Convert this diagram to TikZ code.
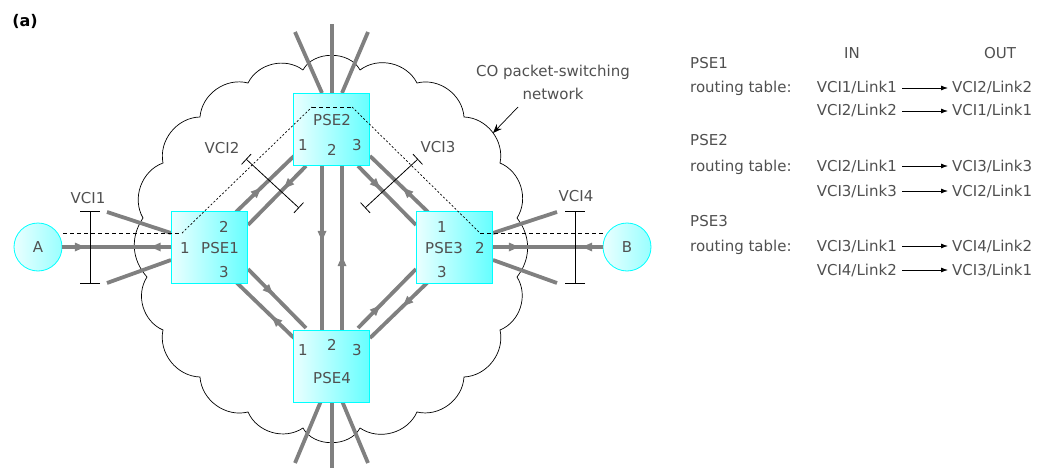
\documentclass[tikz,border=0pt]{standalone}
\usepackage{fontspec}
\setmainfont{DejaVu Sans}
\usetikzlibrary{arrows.meta,decorations.markings}
\definecolor{linkgray}{RGB}{128,128,128}
\definecolor{txtgray}{RGB}{80,80,80}
\definecolor{boxcyan}{RGB}{0,255,255}
\tikzset{
  lbl/.style={font=\fontsize{15}{17}\selectfont, text=txtgray, inner sep=0pt},
  pse/.style={draw=boxcyan, line width=0.8pt, left color=cyan!8, right color=cyan!60, minimum width=76pt, minimum height=72pt, inner sep=0pt},
  host/.style={circle, draw=boxcyan, line width=0.8pt, left color=cyan!8, right color=cyan!40, minimum size=48pt, inner sep=0pt, font=\fontsize{15}{17}\selectfont, text=txtgray},
  link/.style={draw=linkgray, line width=3.8pt},
  tipf/.style={postaction={decorate,decoration={markings,mark=at position #1 with {\fill[linkgray] (4pt,0pt) -- (-6pt,4.5pt) -- (-6pt,-4.5pt) -- cycle;}}}},
  tipb/.style={postaction={decorate,decoration={markings,mark=at position #1 with {\fill[linkgray] (-4pt,0pt) -- (6pt,4.5pt) -- (6pt,-4.5pt) -- cycle;}}}},
  cloudline/.style={draw=black, line width=0.7pt},
  scal/.style={bend left=50},
  brace/.style={bend left=38},
  vci/.style={draw=black, line width=0.8pt, {Bar[width=20pt]}-{Bar[width=20pt]}},
  vcid/.style={draw=black, line width=0.8pt, {Bar[width=14pt]}-{Bar[width=14pt]}},
  vc/.style={draw=black, line width=0.8pt, dash pattern=on 4pt off 3pt},
  vcf/.style={draw=black, line width=0.7pt, dash pattern=on 2pt off 2pt},
  tabarrow/.style={draw=black, line width=0.8pt, -{Latex[length=7pt,width=5pt]}, shorten <=5pt, shorten >=4pt},
}
\begin{document}
\begin{tikzpicture}[x=1pt,y=-1pt]
\useasboundingbox (0,0) rectangle (1049,468);

% ---------------- cloud ----------------
\coordinate (c1) at (303,70);
\coordinate (c2) at (360,70);
\coordinate (c3) at (417,83);
\coordinate (c4) at (464,117);
\coordinate (c5) at (500,163);
\coordinate (c6) at (517,218);
\coordinate (c7) at (517,277);
\coordinate (c8) at (500,330);
\coordinate (c9) at (464,377);
\coordinate (c10) at (417,412);
\coordinate (c11) at (360,428);
\coordinate (c12) at (303,428);
\coordinate (c13) at (248,412);
\coordinate (c14) at (200,377);
\coordinate (c15) at (163,330);
\coordinate (c16) at (147,277);
\coordinate (c17) at (143,218);
\coordinate (c18) at (163,163);
\coordinate (c19) at (200,117);
\coordinate (c20) at (248,83);
\draw[cloudline] (c1) to[bend left=62] (c2) to[scal] (c3) to[scal] (c4) to[scal] (c5)
  to[scal] (c6) to[brace] (c7) to[scal] (c8) to[scal] (c9) to[scal] (c10)
  to[scal] (c11) to[bend left=62] (c12) to[scal] (c13) to[scal] (c14) to[scal] (c15)
  to[scal] (c16) to[brace] (c17) to[scal] (c18) to[scal] (c19) to[scal] (c20)
  to[scal] (c1);

% ---------------- nodes ----------------
\node[host] (A) at (38,247) {};
\node[host] (B) at (627,247) {};

% ---------------- link coordinates ----------------
\coordinate (s1a) at (107,212); \coordinate (s1b) at (171,233);
\coordinate (s2a) at (107,283); \coordinate (s2b) at (171,260);
\coordinate (P1w) at (171,247);
\coordinate (s3a) at (493,233); \coordinate (s3b) at (557,212);
\coordinate (s4a) at (493,260); \coordinate (s4b) at (557,283);
\coordinate (P3e) at (493,247);
\coordinate (t1a) at (322,93); \coordinate (t1b) at (295,32);
\coordinate (t2a) at (332,93); \coordinate (t2b) at (332,24);
\coordinate (t3a) at (342,93); \coordinate (t3b) at (368,32);
\coordinate (b1a) at (321,401); \coordinate (b1b) at (295,463);
\coordinate (b2a) at (332,401); \coordinate (b2b) at (332,468);
\coordinate (b3a) at (342,401); \coordinate (b3b) at (368,463);
\coordinate (l12oa) at (236,212); \coordinate (l12ob) at (294,156);
\coordinate (l12ia) at (306,166); \coordinate (l12ib) at (248,225);
\coordinate (l23ia) at (358,166); \coordinate (l23ib) at (416,225);
\coordinate (l23oa) at (428,212); \coordinate (l23ob) at (370,156);
\coordinate (l14ia) at (248,269); \coordinate (l14ib) at (306,328);
\coordinate (l14oa) at (294,338); \coordinate (l14ob) at (236,282);
\coordinate (l34ia) at (358,328); \coordinate (l34ib) at (416,269);
\coordinate (l34oa) at (428,282); \coordinate (l34ob) at (370,338);
\coordinate (v1a) at (322,166); \coordinate (v1b) at (322,331);
\coordinate (v2a) at (342,331); \coordinate (v2b) at (342,166);

% ---------------- links ----------------
\draw[link] (s1a) -- (s1b);
\draw[link] (s2a) -- (s2b);
\draw[link, tipf=0.17, tipb=0.85] (A.east) -- (P1w);
\draw[link] (s3a) -- (s3b);
\draw[link] (s4a) -- (s4b);
\draw[link, tipf=0.2, tipb=0.85] (P3e) -- (B.west);
\draw[link] (t1a) -- (t1b);
\draw[link] (t2a) -- (t2b);
\draw[link] (t3a) -- (t3b);
\draw[link] (b1a) -- (b1b);
\draw[link] (b2a) -- (b2b);
\draw[link] (b3a) -- (b3b);
\draw[link, tipf=0.38] (l12oa) -- (l12ob);
\draw[link, tipf=0.33] (l12ia) -- (l12ib);
\draw[link, tipf=0.33] (l23ia) -- (l23ib);
\draw[link, tipf=0.38] (l23oa) -- (l23ob);
\draw[link, tipf=0.38] (l14ia) -- (l14ib);
\draw[link, tipf=0.33] (l14oa) -- (l14ob);
\draw[link, tipf=0.33] (l34ia) -- (l34ib);
\draw[link, tipf=0.38] (l34oa) -- (l34ob);
\draw[link, tipf=0.43] (v1a) -- (v1b);
\draw[link, tipf=0.43] (v2a) -- (v2b);

% ---------------- switches ----------------
\node[pse] (PSE1) at (209.5,247.5) {};
\node[pse] (PSE2) at (331.5,129.5) {};
\node[pse] (PSE3) at (454,247.5) {};
\node[pse] (PSE4) at (331.5,366) {};

\node[lbl] at (A) {A};
\node[lbl] at (B) {B};

\node[lbl] (p1n) at (220,248) {PSE1};
\node[lbl] (p1l1) at (185,248) {1};
\node[lbl] (p1l2) at (224,227) {2};
\node[lbl] (p1l3) at (224,272) {3};

\node[lbl] (p2n) at (332,120) {PSE2};
\node[lbl] (p2l1) at (303,145) {1};
\node[lbl] (p2l2) at (332,150) {2};
\node[lbl] (p2l3) at (357,145) {3};

\node[lbl] (p3n) at (444,248) {PSE3};
\node[lbl] (p3l1) at (442,227) {1};
\node[lbl] (p3l2) at (480,248) {2};
\node[lbl] (p3l3) at (442,272) {3};

\node[lbl] (p4n) at (332,378) {PSE4};
\node[lbl] (p4l1) at (303,350) {1};
\node[lbl] (p4l2) at (332,345) {2};
\node[lbl] (p4l3) at (357,350) {3};

% ---------------- virtual circuit path ----------------
\coordinate (d0) at (63,233);
\coordinate (d1) at (182,233);
\coordinate (d2) at (312,107);
\coordinate (d3) at (352,107);
\coordinate (d4) at (480,233);
\coordinate (d5) at (603,233);
\draw[vc] (d0) -- (d1);
\draw[vcf] (d1) -- (d2);
\draw[vc] (d2) -- (d3);
\draw[vcf] (d3) -- (d4);
\draw[vc] (d4) -- (d5);

% ---------------- VCI markers ----------------
\coordinate (vci1a) at (90,211); \coordinate (vci1b) at (90,284);
\coordinate (vci4a) at (575,211); \coordinate (vci4b) at (575,284);
\coordinate (vci2a) at (246,159); \coordinate (vci2b) at (299,208);
\coordinate (vci3a) at (418,159); \coordinate (vci3b) at (365,208);
\draw[vci] (vci1a) -- (vci1b);
\draw[vci] (vci4a) -- (vci4b);
\draw[vcid] (vci2a) -- (vci2b);
\draw[vcid] (vci3a) -- (vci3b);
\node[lbl] (vl1) at (88,198) {VCI1};
\node[lbl] (vl4) at (576,196) {VCI4};
\node[lbl] (vl2) at (222,148) {VCI2};
\node[lbl] (vl3) at (438,147) {VCI3};

% ---------------- cloud label ----------------
\node[lbl] (cl1) at (553,72) {CO packet-switching};
\node[lbl] (cl2) at (553,94) {network};
\coordinate (ca) at (518,107);
\coordinate (cb) at (493,133);
\draw[draw=black, line width=0.7pt, -{Stealth[length=9pt,width=7pt]}] (ca) -- (cb);

\node[font=\fontsize{16}{18}\selectfont\bfseries, inner sep=0pt] (fa) at (25,21) {(a)};

% ---------------- routing tables ----------------
\node[lbl, anchor=base] (hin) at (852,59) {IN};
\node[lbl, anchor=base] (hout) at (1000,59) {OUT};

\node[lbl, anchor=base west] (t1h) at (690,69) {PSE1};
\node[lbl, anchor=base west] (t1r) at (690,93) {routing table:};
\node[lbl, anchor=base east] (t1i1) at (897,93) {VCI1/Link1};
\node[lbl, anchor=base west] (t1o1) at (952,93) {VCI2/Link2};
\node[lbl, anchor=base east] (t1i2) at (897,116) {VCI2/Link2};
\node[lbl, anchor=base west] (t1o2) at (952,116) {VCI1/Link1};
\draw[tabarrow] (t1i1.east) -- (t1o1.west);
\draw[tabarrow] (t1i2.east) -- (t1o2.west);

\node[lbl, anchor=base west] (t2h) at (690,146) {PSE2};
\node[lbl, anchor=base west] (t2r) at (690,171) {routing table:};
\node[lbl, anchor=base east] (t2i1) at (897,171) {VCI2/Link1};
\node[lbl, anchor=base west] (t2o1) at (952,171) {VCI3/Link3};
\node[lbl, anchor=base east] (t2i2) at (897,196) {VCI3/Link3};
\node[lbl, anchor=base west] (t2o2) at (952,196) {VCI2/Link1};
\draw[tabarrow] (t2i1.east) -- (t2o1.west);
\draw[tabarrow] (t2i2.east) -- (t2o2.west);

\node[lbl, anchor=base west] (t3h) at (690,226) {PSE3};
\node[lbl, anchor=base west] (t3r) at (690,251) {routing table:};
\node[lbl, anchor=base east] (t3i1) at (897,251) {VCI3/Link1};
\node[lbl, anchor=base west] (t3o1) at (952,251) {VCI4/Link2};
\node[lbl, anchor=base east] (t3i2) at (897,275) {VCI4/Link2};
\node[lbl, anchor=base west] (t3o2) at (952,275) {VCI3/Link1};
\draw[tabarrow] (t3i1.east) -- (t3o1.west);
\draw[tabarrow] (t3i2.east) -- (t3o2.west);
\end{tikzpicture}
\end{document}
